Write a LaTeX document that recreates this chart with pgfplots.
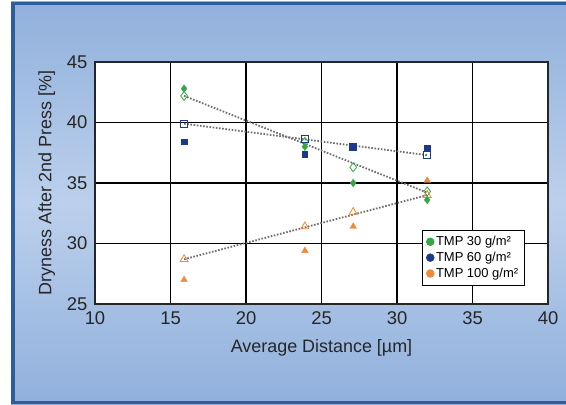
\documentclass[border=0pt]{standalone}
\usepackage{pgfplots}
\pgfplotsset{compat=1.18}
\usepackage{fontspec}
\setmainfont{Liberation Sans}
\definecolor{bgedge}{HTML}{90B0DC}
\definecolor{bgmid}{HTML}{BCD0EC}
\definecolor{frameblue}{HTML}{2A5E9C}
\definecolor{cgreen}{HTML}{35A845}
\definecolor{cblue}{HTML}{1D3A8A}
\definecolor{corange}{HTML}{EE8A3C}
\definecolor{fitgray}{HTML}{6E6E6E}
\begin{document}
\begin{tikzpicture}[x=1bp,y=1bp]
\useasboundingbox (0,0) rectangle (566,404);
\fill[white] (0,0) rectangle (566,404);
\shade[top color=bgedge, bottom color=bgedge, middle color=bgmid] (11,0) rectangle (566,402);
\draw[frameblue, line width=3.5bp] (566,400.5) -- (13,400.5) -- (13,1.75) -- (566,1.75);
\begin{axis}[
  at={(95bp,100bp)}, anchor=south west,
  scale only axis, width=453bp, height=242bp,
  xmin=10, xmax=40, ymin=25, ymax=45,
  xtick={10,15,...,40}, ytick={25,30,...,45},
  major tick length=0pt,
  grid=major,
  major grid style={black, line width=1.2bp},
  axis line style={black!85, line width=1.5bp},
  axis background/.style={fill=white},
  tick label style={font=\fontsize{18.5}{20}\selectfont, text=black!85},
  /pgf/number format/assume math mode=true,
  xticklabel style={yshift=-4bp},
  yticklabel style={xshift=-4bp},
  xlabel={Average Distance [µm]},
  ylabel={Dryness After 2nd Press [\%]},
  label style={font=\fontsize{18}{20}\selectfont, text=black!85},
  xlabel style={yshift=-8bp},
  ylabel style={yshift=5bp},
  legend style={at={(0.722,0.306)}, anchor=north west, draw=black, line width=0.8bp,
    fill=white, font=\fontsize{13}{15}\selectfont, row sep=1bp, inner sep=4bp},
  legend cell align=left,
  clip=false,
]
% fit lines
\addplot[fitgray, line width=1.8bp, dash pattern=on 1.6bp off 1.6bp, forget plot] coordinates {(15.9,42.2) (32.0,34.2)};
\addplot[fitgray, line width=1.8bp, dash pattern=on 1.6bp off 1.6bp, forget plot] coordinates {(15.9,39.9) (32.0,37.3)};
\addplot[fitgray, line width=1.8bp, dash pattern=on 1.6bp off 1.6bp, forget plot] coordinates {(15.9,28.7) (32.0,34.0)};
% open (fitted) markers
\addplot[only marks, mark=diamond, mark size=4.5bp, cgreen, mark options={fill=white, line width=0.8bp}, forget plot] coordinates {(15.9,42.2) (23.9,38.4) (27.1,36.3) (32.0,34.3)};
\addplot[only marks, mark=square, mark size=3.5bp, cblue, mark options={fill=white, line width=1bp}, forget plot] coordinates {(15.9,39.9) (23.9,38.6) (27.1,38.0) (32.0,37.3)};
\addplot[only marks, mark=triangle, mark size=4.5bp, corange, mark options={fill=white, line width=0.8bp}, forget plot] coordinates {(15.9,28.7) (23.9,31.4) (27.1,32.6) (32.0,34.0)};
% measured markers
\addplot[only marks, mark=diamond*, mark size=3.8bp, cgreen, forget plot] coordinates {(15.9,42.8) (23.9,38.0) (27.1,35.0) (32.0,33.6)};
\addplot[only marks, mark=square*, mark size=2.8bp, cblue, forget plot] coordinates {(15.9,38.4) (23.9,37.4) (27.1,38.0) (32.0,37.9)};
\addplot[only marks, mark=triangle*, mark size=3.8bp, corange, forget plot] coordinates {(15.9,27.0) (23.9,29.4) (27.1,31.4) (32.0,35.2)};
\addlegendimage{only marks, mark=*, mark size=3.8bp, cgreen}
\addlegendentry{TMP 30 g/m²}
\addlegendimage{only marks, mark=*, mark size=3.8bp, cblue}
\addlegendentry{TMP 60 g/m²}
\addlegendimage{only marks, mark=*, mark size=3.8bp, corange}
\addlegendentry{TMP 100 g/m²}
\end{axis}
\end{tikzpicture}
\end{document}
